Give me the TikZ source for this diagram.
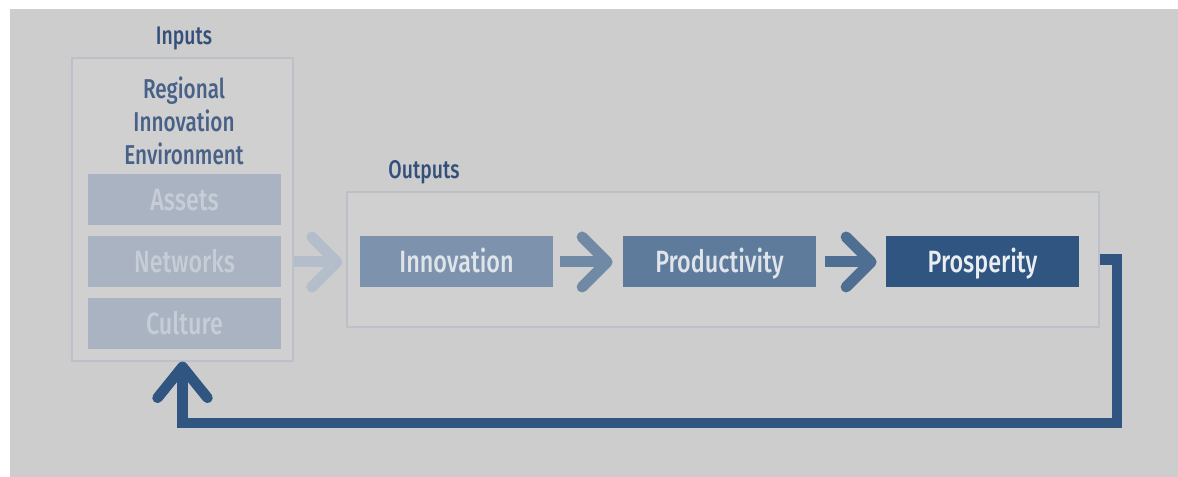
\documentclass[tikz,border=0pt]{standalone}
\usepackage{fontspec}
\setmainfont{Fira Sans Medium}[FakeStretch=0.76]
\usepackage{xcolor}
\usetikzlibrary{arrows.meta, positioning}
\definecolor{bggray}{HTML}{CDCDCD}
\definecolor{boxgray}{HTML}{D0D0D1}
\definecolor{framegray}{HTML}{BCC1C9}
\definecolor{titleblue}{HTML}{34507A}
\definecolor{assetfill}{HTML}{A9B3C1}
\definecolor{assettext}{HTML}{C6CDD6}
\definecolor{innofill}{HTML}{7D93AD}
\definecolor{prodfill}{HTML}{5E7B9C}
\definecolor{prospfill}{HTML}{2F5580}
\definecolor{lightarrow}{HTML}{B4BECA}
\definecolor{midarrow}{HTML}{7089A4}
\definecolor{darkarrow}{HTML}{4E6E92}

\begin{document}
\begin{tikzpicture}[
    block/.style={minimum width=3.86cm, minimum height=1.02cm, inner sep=0pt,
      text height=12.5pt, text depth=0.4pt,
      font=\fontsize{17.5}{20}\selectfont},
    frame/.style={draw=framegray, fill=boxgray, line width=0.7pt, inner sep=0pt},
    heading/.style={text=titleblue, font=\fontsize{14.5}{17}\selectfont},
    flow/.style={line width=0.22cm, line cap=butt,
      -{Straight Barb[length=0.5cm, width=1.0cm, round]}}
]

  % Hintergrund
  \useasboundingbox (0,0) rectangle (23.56,9.54);
  \fill[white] (0,0) rectangle (23.56,9.54);
  \fill[bggray] (0.2,0) rectangle (23.56,9.36);

  % Rahmen Inputs / Outputs
  \node[frame, minimum width=4.42cm, minimum height=6.06cm] (inputs) at (3.65,5.35) {};
  \node[frame, minimum width=15.04cm, minimum height=2.70cm] (outputs) at (14.46,4.35) {};
  \node[heading] (inputslabel) at (3.68,8.78) {Inputs};
  \node[heading] (outputslabel) at (8.48,6.10) {Outputs};

  % Regionales Umfeld
  \node[text=titleblue!90!white, align=center, font=\fontsize{15.5}{18.8}\selectfont]
    (environment) at (3.68,7.12) {Regional\\Innovation\\Environment};
  \node[block, fill=assetfill, text=assettext] (assets)   at (3.69,5.54) {Assets};
  \node[block, fill=assetfill, text=assettext] (networks) at (3.69,4.30) {Networks};
  \node[block, fill=assetfill, text=assettext] (culture)  at (3.69,3.07) {Culture};

  % Ergebnisse
  \node[block, fill=innofill, text=innofill!25!white]   (innovation)   at (9.13,4.30)  {Innovation};
  \node[block, fill=prodfill, text=prodfill!20!white]   (productivity) at (14.39,4.30) {Productivity};
  \node[block, fill=prospfill, text=prospfill!10!white] (prosperity)   at (19.65,4.30) {Prosperity};

  % Pfeile
  \draw[flow, lightarrow, shorten >=0.08cm] (inputs.east |- networks) -- (outputs.west |- networks);
  \draw[flow, midarrow, shorten <=0.14cm, shorten >=0.2cm] (innovation) -- (productivity);
  \draw[flow, darkarrow, shorten <=0.18cm, shorten >=0.18cm] (productivity) -- (prosperity);

  % Rueckkopplung
  \coordinate (loopcorner) at (22.34,1.08);
  \draw[prospfill, line width=0.21cm, line join=miter,
        -{Straight Barb[length=0.62cm, width=1.0cm, round]}]
    (outputs.east) -| (loopcorner) -| (inputs.south);

\end{tikzpicture}
\end{document}
